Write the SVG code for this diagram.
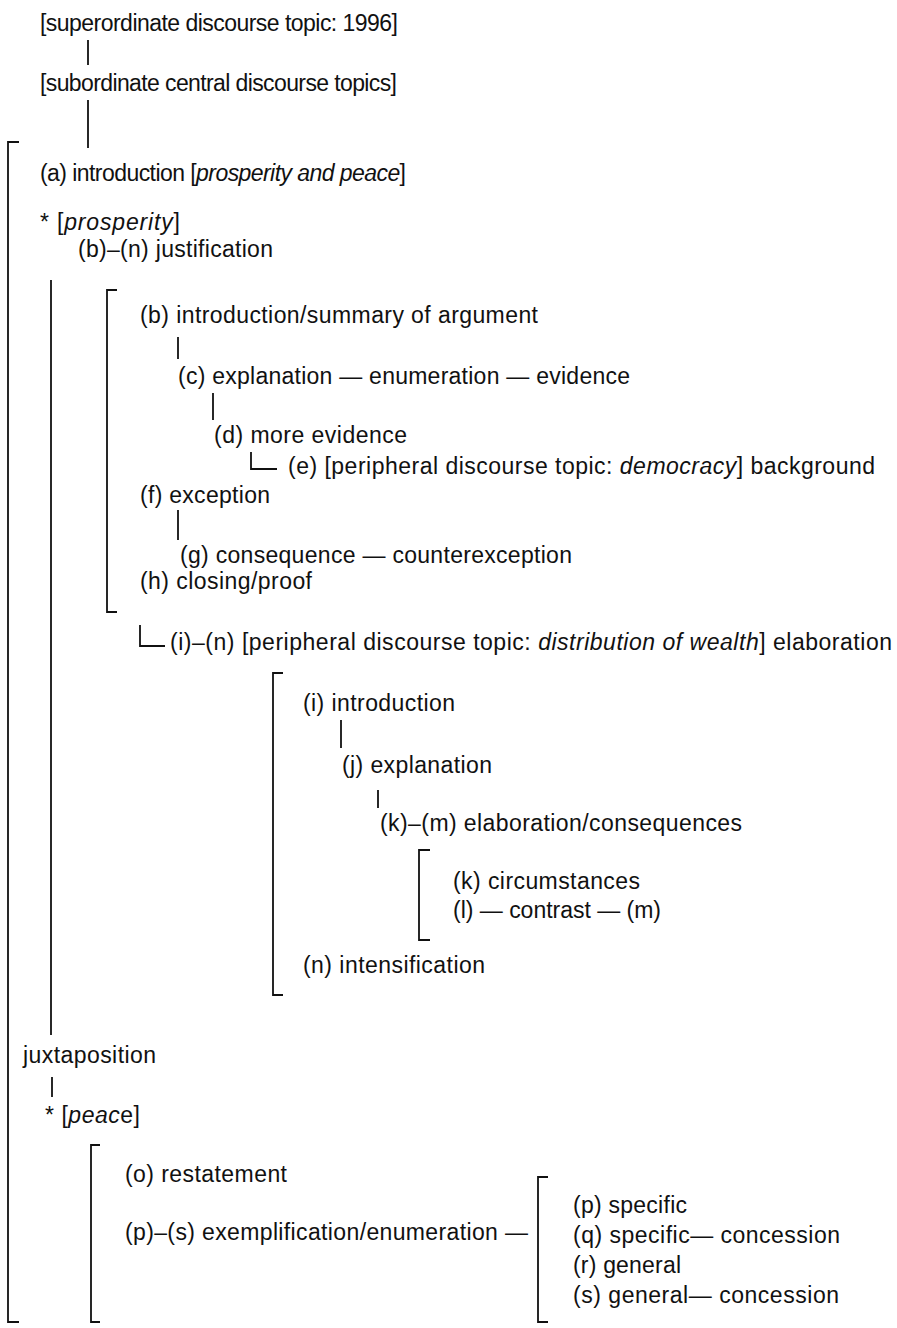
<svg xmlns="http://www.w3.org/2000/svg" width="897" height="1328" viewBox="0 0 897 1328">
  <style>
    text { font-family: "Liberation Sans", Arial, Helvetica, sans-serif; font-size: 23px; fill: #111; }
    .it { font-style: italic; }
    .ln { stroke: #111; stroke-width: 1.8; fill: none; stroke-linecap: butt; }
    .br { stroke: #111; stroke-width: 1.8; fill: none; }
  </style>
  <rect width="897" height="1328" fill="#fff"/>

  <!-- brackets grouping sections -->
  <g id="brackets">
    <path class="br" d="M19,142 H8 V1322 H19"/>
    <path class="br" d="M117,290 H107 V612 H117"/>
    <path class="br" d="M283,673 H273 V995 H283"/>
    <path class="br" d="M430,850 H419 V940 H430"/>
    <path class="br" d="M100,1145 H91 V1322 H100"/>
    <path class="br" d="M548,1177 H538 V1322 H548"/>
  </g>

  <!-- connectors -->
  <g id="connectors">
    <line class="ln" x1="88" y1="40" x2="88" y2="65"/>
    <line class="ln" x1="88" y1="100" x2="88" y2="148"/>
    <line class="ln" x1="51" y1="280" x2="51" y2="1035"/>
    <line class="ln" x1="178" y1="337" x2="178" y2="359"/>
    <line class="ln" x1="213" y1="393" x2="213" y2="420"/>
    <path class="ln" d="M251,452 V469 H277"/>
    <line class="ln" x1="178" y1="510" x2="178" y2="540"/>
    <path class="ln" d="M140,625 V646 H165"/>
    <line class="ln" x1="341" y1="720" x2="341" y2="748"/>
    <line class="ln" x1="378" y1="790" x2="378" y2="808"/>
    <line class="ln" x1="52" y1="1077" x2="52" y2="1097"/>
  </g>

  <g id="superordinate"><text x="40" y="31" textLength="358" lengthAdjust="spacing">[superordinate discourse topic: 1996]</text></g>
  <g id="subordinate"><text x="40" y="91" textLength="357" lengthAdjust="spacing">[subordinate central discourse topics]</text></g>
  <g id="node-a"><text x="40" y="181" textLength="366" lengthAdjust="spacing">(a) introduction [<tspan class="it">prosperity and peace</tspan>]</text></g>
  <g id="prosperity"><text x="40" y="230" textLength="140" lengthAdjust="spacing">* [<tspan class="it">prosperity</tspan>]</text></g>
  <g id="node-b-n"><text x="78" y="257" textLength="195" lengthAdjust="spacing">(b)–(n) justification</text></g>

  <g id="node-b"><text x="140" y="323" textLength="398" lengthAdjust="spacing">(b) introduction/summary of argument</text></g>
  <g id="node-c"><text x="178" y="384" textLength="452" lengthAdjust="spacing">(c) explanation — enumeration — evidence</text></g>
  <g id="node-d"><text x="214" y="443" textLength="193" lengthAdjust="spacing">(d) more evidence</text></g>
  <g id="node-e"><text x="288" y="474" textLength="587" lengthAdjust="spacing">(e) [peripheral discourse topic: <tspan class="it">democracy</tspan>] background</text></g>
  <g id="node-f"><text x="140" y="503" textLength="130" lengthAdjust="spacing">(f) exception</text></g>
  <g id="node-g"><text x="180" y="563" textLength="392" lengthAdjust="spacing">(g) consequence — counterexception</text></g>
  <g id="node-h"><text x="140" y="589" textLength="172" lengthAdjust="spacing">(h) closing/proof</text></g>

  <g id="node-i-n"><text x="170" y="650" textLength="722" lengthAdjust="spacing">(i)–(n) [peripheral discourse topic: <tspan class="it">distribution of wealth</tspan>] elaboration</text></g>
  <g id="node-i"><text x="303" y="711" textLength="152" lengthAdjust="spacing">(i) introduction</text></g>
  <g id="node-j"><text x="342" y="773" textLength="150" lengthAdjust="spacing">(j) explanation</text></g>
  <g id="node-k-m"><text x="380" y="831" textLength="362" lengthAdjust="spacing">(k)–(m) elaboration/consequences</text></g>
  <g id="node-k"><text x="453" y="889" textLength="187" lengthAdjust="spacing">(k) circumstances</text></g>
  <g id="node-l-m"><text x="453" y="918" textLength="208" lengthAdjust="spacing">(l) — contrast — (m)</text></g>
  <g id="node-n"><text x="303" y="973" textLength="182" lengthAdjust="spacing">(n) intensification</text></g>

  <g id="juxtaposition"><text x="23" y="1063" textLength="133" lengthAdjust="spacing">juxtaposition</text></g>
  <g id="peace"><text x="45" y="1123" textLength="95" lengthAdjust="spacing">* [<tspan class="it">peac</tspan>e]</text></g>
  <g id="node-o"><text x="125" y="1182" textLength="162" lengthAdjust="spacing">(o) restatement</text></g>
  <g id="node-p-s"><text x="125" y="1240" textLength="403" lengthAdjust="spacing">(p)–(s) exemplification/enumeration —</text></g>
  <g id="node-p"><text x="573" y="1213" textLength="114" lengthAdjust="spacing">(p) specific</text></g>
  <g id="node-q"><text x="573" y="1243" textLength="267" lengthAdjust="spacing">(q) specific— concession</text></g>
  <g id="node-r"><text x="573" y="1273" textLength="108" lengthAdjust="spacing">(r) general</text></g>
  <g id="node-s"><text x="573" y="1303" textLength="266" lengthAdjust="spacing">(s) general— concession</text></g>
</svg>
